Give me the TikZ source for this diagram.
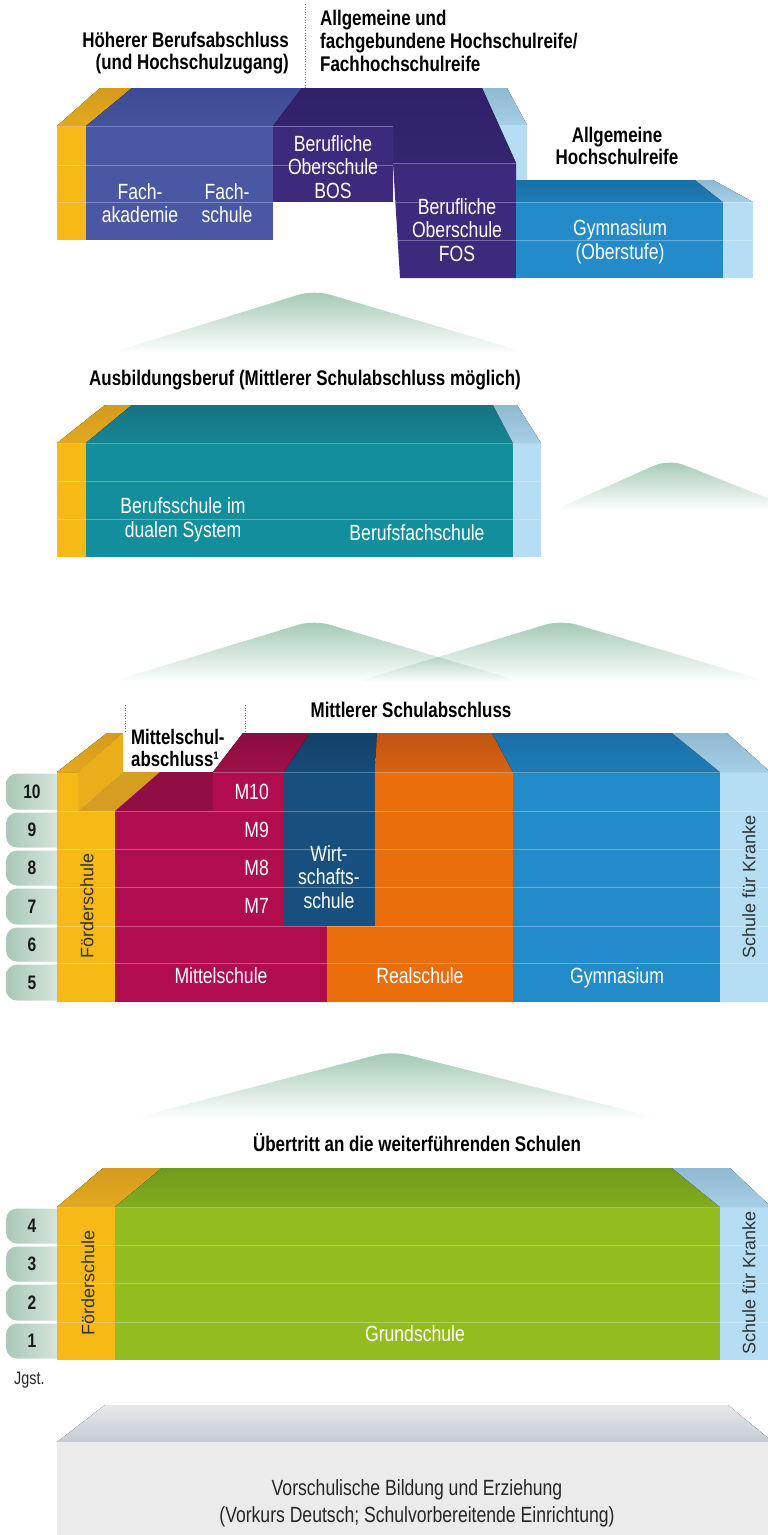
\documentclass[tikz,border=0pt]{standalone}
\usepackage{fontspec}
\setmainfont{Liberation Sans}[FakeStretch=0.8]
\newfontfamily\widesans{Liberation Sans}
\definecolor{yel}{HTML}{F7B916}
\definecolor{yeltopB}{HTML}{D49B1E}
\definecolor{yeltopF}{HTML}{E2A91F}
\definecolor{yelside}{HTML}{EAAE1A}
\definecolor{yelrow}{HTML}{D69E20}
\definecolor{fach}{HTML}{4A57A2}
\definecolor{fachtopB}{HTML}{3E4B94}
\definecolor{fachtopF}{HTML}{45529C}
\definecolor{purp}{HTML}{3D2A7C}
\definecolor{purptopB}{HTML}{30216A}
\definecolor{purptopF}{HTML}{35256F}
\definecolor{gym}{HTML}{238BCA}
\definecolor{gymtopB}{HTML}{1A6FA6}
\definecolor{gymtopF}{HTML}{1F7CB8}
\definecolor{lblue}{HTML}{B5DDF3}
\definecolor{lbluetopB}{HTML}{8FB9D1}
\definecolor{lbluetopF}{HTML}{A5CFE6}
\definecolor{teal}{HTML}{138E9D}
\definecolor{tealtopB}{HTML}{157482}
\definecolor{tealtopF}{HTML}{168593}
\definecolor{mag}{HTML}{B10C4E}
\definecolor{magtopB}{HTML}{8A0D3F}
\definecolor{magtopF}{HTML}{A00F48}
\definecolor{magrow}{HTML}{910E43}
\definecolor{wirt}{HTML}{17507F}
\definecolor{wirttopB}{HTML}{13426A}
\definecolor{wirttopF}{HTML}{164A77}
\definecolor{orng}{HTML}{EA6F0C}
\definecolor{orngtopB}{HTML}{C15515}
\definecolor{orngtopF}{HTML}{D8620F}
\definecolor{grn}{HTML}{93BD1F}
\definecolor{grntopB}{HTML}{709A1B}
\definecolor{grntopF}{HTML}{82AD1E}
\definecolor{greyfront}{HTML}{EBEBEB}
\definecolor{greytopB}{HTML}{E7E9EB}
\definecolor{greytopF}{HTML}{C4CBD2}
\definecolor{tabL}{HTML}{A9C8B7}
\definecolor{tabR}{HTML}{E4EEE8}
\definecolor{hillc}{HTML}{A2C8B2}
\begin{document}
\begin{tikzpicture}[x=1pt,y=-1pt,
  tface/.style 2 args={top color=#1, bottom color=#2, draw=none},
  rowline/.style={draw=white, draw opacity=0.3, line width=0.9pt},
  lbl/.style={text=white, font=\fontsize{22}{23.5}\selectfont, align=center, inner sep=0pt},
  ttl/.style={text=black, font=\bfseries\fontsize{21.2}{22.8}\selectfont, inner sep=0pt},
  rot/.style={text=black!80, font=\widesans\fontsize{18}{20}\selectfont, rotate=90, inner sep=0pt},
  num/.style={text=black!90, font=\bfseries\fontsize{19.5}{20}\selectfont, inner sep=0pt},
  tab/.style={left color=tabL, right color=tabR, rounded corners=11pt},
  hill/.style={top color=hillc, middle color=hillc!80, bottom color=white, rounded corners=16pt},
  dots/.style={draw=black!55, dotted, line width=0.6pt}]
\useasboundingbox (0,0) rectangle (768,1535);
\clip (0,0) rectangle (768,1535);

% ---------------- top titles
\node[ttl, align=right, anchor=east] (hoeher) at (289,53) {Höherer Berufsabschluss\\(und Hochschulzugang)};
\node[ttl, align=left, anchor=west] (allg) at (320,41) {Allgemeine und\\fachgebundene Hochschulreife/\\Fachhochschulreife};
\coordinate (d1a) at (305,4); \coordinate (d1b) at (305,88);
\draw[dots] (d1a) -- (d1b);

% ---------------- top block
\fill[tface={lbluetopB}{lbluetopF}] (482,88) -- (507,88) -- (527,125) -- (497,125) -- cycle;
\fill[lblue] (497,125) rectangle (527,185);
\fill[yel] (57,126) rectangle (86,240);
\fill[tface={yeltopB}{yeltopF}] (57,126) -- (86,126) -- (132,88) -- (100,88) -- cycle;
\fill[fach] (86,126) rectangle (273,240);
\fill[tface={fachtopB}{fachtopF}] (86,126) -- (273,126) -- (302,88) -- (132,88) -- cycle;
\fill[tface={purptopB}{purptopF}] (273,126) -- (302,88) -- (482,88) -- (516,163) -- (393,163) -- (393,126) -- cycle;
\fill[purp] (273,126) rectangle (393,202);
\fill[purp] (393,163) -- (516,163) -- (516,278) -- (400,278) -- cycle;
\fill[tface={gymtopB}{gymtopF}] (516,180) -- (695,180) -- (723,202) -- (516,202) -- cycle;
\fill[tface={lbluetopB}{lbluetopF}] (695,180) -- (713,180) -- (753,202) -- (723,202) -- cycle;
\fill[gym] (516,202) rectangle (723,278);
\fill[lblue] (723,202) rectangle (753,278);
\draw[rowline] (57,126) -- (393,126);
\draw[rowline] (57,165) -- (393,165);
\draw[rowline] (57,202) -- (273,202);
\draw[rowline] (393,163) -- (516,163);
\draw[rowline] (396,202) -- (753,202);
\draw[rowline] (398,240) -- (753,240);

\node[lbl] (fachak) at (140,203) {Fach-\\akademie};
\node[lbl] (fachsch) at (227,203) {Fach-\\schule};
\node[lbl] (bos) at (333,167) {Berufliche\\Oberschule\\BOS};
\node[lbl] (fos) at (457,230) {Berufliche\\Oberschule\\FOS};
\node[lbl] (gymob) at (620,242) {Gymnasium\\(Oberstufe)};
\node[ttl, align=center] (ahr) at (617,146) {Allgemeine\\Hochschulreife};

% ---------------- hill 1
\shade[hill] (110,353) -- (314,290) -- (528,353) -- cycle;

% ---------------- Ausbildung
\node[ttl] (ausb) at (305,380) {Ausbildungsberuf (Mittlerer Schulabschluss möglich)};
\shade[hill] (552,511) -- (669,459) -- (800,511) -- cycle;

\fill[yel] (57,443) rectangle (86,557);
\fill[tface={yeltopB}{yeltopF}] (57,443) -- (86,443) -- (132,405) -- (105,405) -- cycle;
\fill[teal] (86,443) rectangle (513,557);
\fill[tface={tealtopB}{tealtopF}] (86,443) -- (513,443) -- (493,405) -- (132,405) -- cycle;
\fill[lblue] (513,443) rectangle (541,557);
\fill[tface={lbluetopB}{lbluetopF}] (513,443) -- (541,443) -- (517,405) -- (493,405) -- cycle;
\draw[rowline] (57,443) -- (541,443);
\draw[rowline] (57,481) -- (541,481);
\draw[rowline] (57,519) -- (541,519);
\node[lbl] (bsdual) at (183,520) {Berufsschule im\\dualen System};
\node[lbl, anchor=base] (bfs) at (417,540) {Berufsfachschule};

% ---------------- middle hills
\begin{scope}[blend mode=multiply]
\shade[hill] (110,682) -- (314,620) -- (522,682) -- cycle;
\shade[hill] (355,682) -- (561,620) -- (770,682) -- cycle;
\end{scope}

% ---------------- Mittlerer Schulabschluss
\node[ttl] (msa) at (411,710) {Mittlerer Schulabschluss};
\coordinate (d2a) at (125,705); \coordinate (d2b) at (125,733);
\coordinate (d3a) at (245,705); \coordinate (d3b) at (245,733);
\draw[dots] (d2a) -- (d2b);
\draw[dots] (d3a) -- (d3b);
\node[ttl, align=left, anchor=west, font=\bfseries\fontsize{21}{22}\selectfont] (msabs) at (131,748) {Mittelschul-\\abschluss¹};

% tabs 5-10
\foreach \t/\b/\n/\nm in {772/811/10/g10, 811/849/9/g9, 849/887/8/g8, 887/926/7/g7, 926/963/6/g6, 963/1002/5/g5}{
  \shade[tab] (6,\t+1.5) rectangle (75,\b-1.5);
  \node[num] (\nm) at (32,{(\t+\b)/2}) {\n};
}

% yellow
\fill[yel] (57,811) rectangle (115,1002);
\fill[yel] (57,772) rectangle (78,811);
\fill[tface={yeltopB}{yeltopF}] (57,772) -- (78,772) -- (123,733) -- (107,733) -- cycle;
\fill[yelside] (78,772) -- (123,733) -- (123,772) -- (78,811) -- cycle;
\fill[yelrow] (78,811) -- (115,811) -- (160,772) -- (123,772) -- cycle;
\fill[magrow] (115,811) -- (213,811) -- (213,772) -- (160,772) -- cycle;
% magenta
\fill[mag] (213,772) rectangle (284,811);
\fill[mag] (115,811) rectangle (284,926);
\fill[mag] (115,926) rectangle (327,1002);
\fill[tface={magtopB}{magtopF}] (213,772) -- (284,772) -- (310,733) -- (243,733) -- cycle;
% Wirtschaftsschule
\fill[wirt] (284,772) rectangle (375,926);
\fill[tface={wirttopB}{wirttopF}] (284,772) -- (375,772) -- (377,733) -- (310,733) -- cycle;
% Realschule
\fill[orng] (375,772) rectangle (513,926);
\fill[orng] (327,926) rectangle (513,1002);
\fill[tface={orngtopB}{orngtopF}] (375,772) -- (513,772) -- (492,733) -- (377,733) -- cycle;
% Gymnasium
\fill[gym] (513,772) rectangle (720,1002);
\fill[tface={gymtopB}{gymtopF}] (513,772) -- (720,772) -- (672,733) -- (492,733) -- cycle;
% Schule fuer Kranke
\fill[lblue] (720,772) rectangle (768,1002);
\fill[tface={lbluetopB}{lbluetopF}] (720,772) -- (768,772) -- (768,770) -- (727,733) -- (672,733) -- cycle;
\draw[rowline] (213,772) -- (768,772);
\foreach \y in {811,849,887,926,963}{\draw[rowline] (57,\y) -- (768,\y);}

\node[lbl, anchor=east] (m10) at (269,792) {M10};
\node[lbl, anchor=east] (m9) at (269,830) {M9};
\node[lbl, anchor=east] (m8) at (269,868) {M8};
\node[lbl, anchor=east] (m7) at (269,906) {M7};
\node[lbl] (wirtsch) at (329,877) {Wirt-\\schafts-\\schule};
\node[lbl, anchor=base] (mittel) at (221,983) {Mittelschule};
\node[lbl, anchor=base] (real) at (420,983) {Realschule};
\node[lbl, anchor=base] (gymn) at (617,983) {Gymnasium};
\node[rot] (foerd1) at (87,906) {Förderschule};
\node[rot] (kranke1) at (749,887) {Schule für Kranke};

% ---------------- hill 4
\shade[hill] (130,1119) -- (392,1051) -- (662,1119) -- cycle;
\node[ttl] (uebertritt) at (417,1143) {Übertritt an die weiterführenden Schulen};

% ---------------- Grundschule block
\foreach \t/\b/\n/\nm in {1207/1245/4/g4, 1245/1283/3/g3, 1283/1322/2/g2, 1322/1360/1/g1}{
  \shade[tab] (6,\t+1.5) rectangle (75,\b-1.5);
  \node[num] (\nm) at (32,{(\t+\b)/2}) {\n};
}
\fill[yel] (57,1207) rectangle (115,1360);
\fill[tface={yeltopB}{yeltopF}] (57,1207) -- (115,1207) -- (162,1168) -- (103,1168) -- cycle;
\fill[grn] (115,1207) rectangle (720,1360);
\fill[tface={grntopB}{grntopF}] (115,1207) -- (720,1207) -- (672,1168) -- (162,1168) -- cycle;
\fill[lblue] (720,1207) rectangle (768,1360);
\fill[tface={lbluetopB}{lbluetopF}] (720,1207) -- (768,1207) -- (768,1204) -- (730,1168) -- (672,1168) -- cycle;
\foreach \y in {1207,1245,1283,1322}{\draw[rowline] (57,\y) -- (768,\y);}
\node[lbl, anchor=base] (grund) at (415,1341) {Grundschule};
\node[rot] (foerd2) at (88,1283) {Förderschule};
\node[rot] (kranke2) at (749,1283) {Schule für Kranke};
\node[anchor=west, inner sep=0pt, font=\fontsize{18}{20}\selectfont, text=black!85] (jgst) at (14,1380) {Jgst.};

% ---------------- Vorschule
\fill[tface={greytopB}{greytopF}] (57,1442) -- (768,1442) -- (768,1438) -- (728,1405) -- (105,1405) -- cycle;
\fill[greyfront] (57,1442) rectangle (768,1535);
\node[align=center, inner sep=0pt, text=black!85, font=\fontsize{22}{27}\selectfont] (vorsch) at (417,1503) {Vorschulische Bildung und Erziehung\\(Vorkurs Deutsch; Schulvorbereitende Einrichtung)};
\end{tikzpicture}
\end{document}
